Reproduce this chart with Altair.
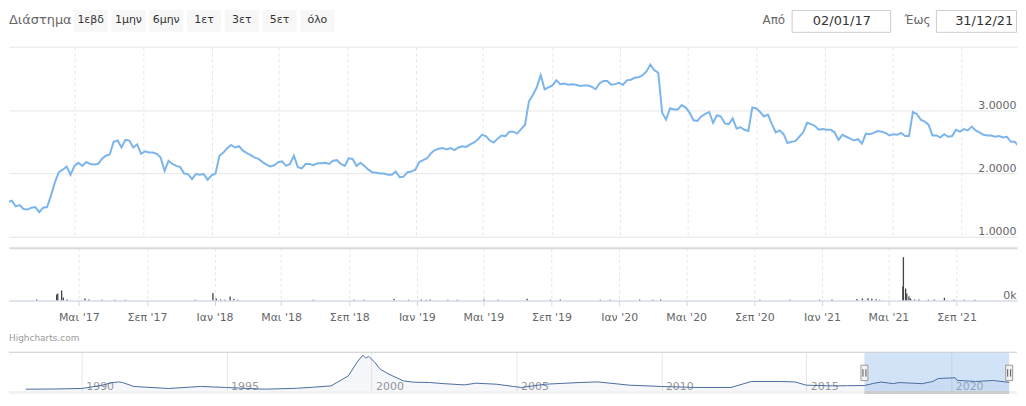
import altair as alt
import pandas as pd

# ---------------- data ----------------
BUTTONS = ["1εβδ", "1μην", "6μην", "1ετ", "3ετ", "5ετ", "όλο"]
RANGE_LABEL = "Διάστημα"
FROM_LABEL = "Από"
TO_LABEL = "Έως"
FROM_DATE = "02/01/17"
TO_DATE = "31/12/21"
CREDIT = "Highcharts.com"

PRICE_START = "2017-01-02"  # weekly closes
PRICE = [
    1.55, 1.57, 1.48, 1.50, 1.44, 1.43, 1.46, 1.47, 1.39, 1.46,
    1.47, 1.65, 1.86, 2.02, 2.06, 2.11, 1.98, 2.12, 2.17, 2.12,
    2.18, 2.15, 2.14, 2.15, 2.23, 2.28, 2.30, 2.50, 2.52, 2.41,
    2.53, 2.52, 2.41, 2.46, 2.31, 2.35, 2.33, 2.33, 2.31, 2.25,
    2.04, 2.20, 2.15, 2.12, 2.10, 2.00, 1.99, 1.91, 1.99, 1.98,
    1.99, 1.90, 1.97, 2.00, 2.28, 2.33, 2.40, 2.45, 2.41, 2.43,
    2.36, 2.32, 2.29, 2.25, 2.23, 2.18, 2.14, 2.11, 2.13, 2.18,
    2.19, 2.12, 2.15, 2.28, 2.10, 2.08, 2.15, 2.15, 2.13, 2.16,
    2.16, 2.17, 2.15, 2.20, 2.21, 2.15, 2.12, 2.24, 2.23, 2.12,
    2.17, 2.12, 2.06, 2.02, 2.01, 2.00, 2.00, 1.98, 1.98, 2.03,
    1.94, 1.95, 2.02, 2.03, 2.06, 2.18, 2.21, 2.24, 2.32, 2.37,
    2.39, 2.40, 2.38, 2.40, 2.37, 2.41, 2.43, 2.42, 2.46, 2.49,
    2.54, 2.61, 2.59, 2.52, 2.49, 2.55, 2.60, 2.59, 2.66, 2.66,
    2.63, 2.70, 2.77, 3.14, 3.24, 3.36, 3.55, 3.33, 3.36, 3.39,
    3.47, 3.41, 3.42, 3.40, 3.41, 3.40, 3.38, 3.39, 3.39, 3.37,
    3.33, 3.42, 3.46, 3.46, 3.40, 3.41, 3.43, 3.40, 3.47, 3.48,
    3.51, 3.52, 3.55, 3.61, 3.72, 3.63, 3.59, 2.96, 2.85, 3.03,
    3.01, 3.01, 3.08, 3.04, 2.96, 2.84, 2.83, 2.90, 2.94, 2.97,
    2.80, 2.92, 2.90, 2.79, 2.78, 2.87, 2.71, 2.73, 2.69, 2.67,
    3.04, 3.03, 2.97, 2.90, 2.93, 2.78, 2.65, 2.68, 2.62, 2.48,
    2.50, 2.51, 2.58, 2.65, 2.80, 2.78, 2.75, 2.69, 2.70, 2.69,
    2.69, 2.65, 2.53, 2.61, 2.58, 2.55, 2.52, 2.54, 2.47, 2.63,
    2.62, 2.64, 2.67, 2.66, 2.64, 2.60, 2.62, 2.61, 2.64, 2.59,
    2.59, 2.97, 2.94, 2.85, 2.82, 2.77, 2.60, 2.60, 2.57, 2.62,
    2.58, 2.59, 2.69, 2.66, 2.70, 2.68, 2.74, 2.68, 2.65, 2.61,
    2.60, 2.60, 2.58, 2.59, 2.57, 2.58, 2.50, 2.50, 2.43, 2.37, 2.34,
]

VOL_DATES = [
    "2017-02-14", "2017-03-22", "2017-03-24", "2017-03-31", "2017-04-03", "2017-04-10",
    "2017-05-12", "2017-05-19", "2017-06-12", "2017-07-05", "2017-07-24", "2017-11-27",
    "2017-12-29", "2018-01-04", "2018-01-12", "2018-01-19", "2018-01-29", "2018-02-05",
    "2018-02-12", "2018-06-28", "2018-09-10", "2018-09-28", "2018-11-21", "2018-12-17",
    "2019-01-09", "2019-01-18", "2019-01-25", "2019-02-26", "2019-03-15", "2019-05-02",
    "2019-05-27", "2019-07-19", "2019-08-30", "2019-09-17", "2019-11-28", "2019-12-16",
    "2020-02-07", "2020-03-02", "2020-03-16", "2020-09-11", "2020-11-04", "2020-12-28",
    "2021-01-19", "2021-03-05", "2021-03-15", "2021-03-25", "2021-04-01", "2021-04-09",
    "2021-04-15", "2021-05-27", "2021-05-28", "2021-06-01", "2021-06-03", "2021-06-07",
    "2021-06-10", "2021-06-17", "2021-06-25", "2021-07-12", "2021-07-23", "2021-08-10",
    "2021-08-27", "2021-09-15", "2021-10-04",
]
VOL_K = [
    9, 57, 66, 94, 28, 9,
    19, 9, 8, 8, 7, 8,
    71, 19, 9, 8, 38, 15,
    8, 8, 8, 8, 15, 8,
    10, 8, 10, 8, 8, 9,
    8, 17, 8, 9, 8, 8,
    9, 8, 9, 8, 8, 8,
    9, 15, 19, 22, 17, 12,
    8, 132, 410, 113, 66, 38,
    19, 10, 9, 8, 9, 26,
    8, 8, 8,
]

NAV_DATES = [
    "1988-01-26", "1989-01-01", "1990-01-01", "1990-09-01", "1991-01-01", "1991-04-10",
    "1991-06-01", "1991-10-20", "1993-01-01", "1994-02-06", "1995-01-01", "1996-04-20",
    "1997-06-01", "1998-01-01", "1998-08-08", "1999-03-14", "1999-07-02", "1999-09-13",
    "1999-10-19", "1999-11-25", "2000-02-06", "2000-04-20", "2000-08-08", "2001-02-06",
    "2001-06-14", "2002-01-01", "2002-07-01", "2003-03-14", "2003-08-08", "2004-04-20",
    "2004-11-25", "2005-03-01", "2006-01-01", "2007-03-14", "2007-10-20", "2008-11-25",
    "2010-01-01", "2011-03-14", "2012-05-27", "2013-02-06", "2014-02-06", "2014-08-08",
    "2015-01-01", "2015-11-25", "2016-06-01", "2017-01-02", "2017-05-01", "2017-08-01",
    "2018-01-01", "2018-03-14", "2018-10-01", "2019-01-01", "2019-05-15", "2019-07-20",
    "2020-02-20", "2020-03-14", "2020-11-01", "2021-06-15", "2021-12-31",
]
NAV_VALUES = [
    0.51, 0.55, 0.70, 1.50, 2.20, 2.48,
    2.30, 1.24, 0.70, 1.24, 0.97, 0.51,
    0.75, 1.05, 1.40, 4.10, 7.80, 9.70,
    8.90, 9.40, 7.90, 5.90, 4.56, 2.75,
    2.40, 2.32, 2.00, 1.67, 2.13, 1.86,
    1.24, 0.97, 1.86, 2.32, 2.48, 1.59,
    1.24, 0.97, 0.97, 2.59, 2.59, 2.48,
    1.59, 1.40, 1.45, 1.50, 2.10, 2.45,
    2.00, 2.30, 2.10, 2.00, 2.60, 3.40,
    3.60, 2.90, 2.60, 2.85, 2.35,
]

TICK_MONTHS = [(2017, 5), (2017, 9), (2018, 1), (2018, 5), (2018, 9), (2019, 1), (2019, 5),
               (2019, 9), (2020, 1), (2020, 5), (2020, 9), (2021, 1), (2021, 5), (2021, 9)]
NAV_YEARS = [1990, 1995, 2000, 2005, 2010, 2015, 2020]

# ---------------- tables ----------------
T = "T00:00:00"
price_df = pd.DataFrame({
    "date": pd.date_range(PRICE_START, periods=len(PRICE), freq="7D").strftime("%Y-%m-%d" + T),
    "price": PRICE,
})
vol_df = pd.DataFrame({"date": [d + T for d in VOL_DATES], "vol": VOL_K})
nav_df = pd.DataFrame({"date": [d + T for d in NAV_DATES], "value": NAV_VALUES})
sel_start = pd.to_datetime(FROM_DATE, format="%d/%m/%y").strftime("%Y-%m-%d" + T)
sel_end = pd.to_datetime(TO_DATE, format="%d/%m/%y").strftime("%Y-%m-%d" + T)
zone_df = pd.DataFrame({"start": [sel_start], "end": [sel_end]})
handle_df = pd.DataFrame({"date": [sel_start, sel_end]})
btn_df = pd.DataFrame({"b": BUTTONS})
one = pd.DataFrame({"k": [0]})

W = 1013
NAV_H = 39
GRID = "#e6e6e6"

# ---------------- header (range selector + inputs) ----------------
btn_scale = alt.Scale(type="band", range=[65, 327], paddingInner=0.1, paddingOuter=0)
btn_rect = alt.Chart(btn_df).mark_rect(color="#f7f7f7").encode(
    x=alt.X("b:N", sort=None, scale=btn_scale, axis=None),
    y=alt.value(0), y2=alt.value(22))
btn_text = alt.Chart(btn_df).mark_text(fontSize=11, color="#333333", baseline="middle").encode(
    x=alt.X("b:N", sort=None, scale=btn_scale, axis=None),
    y=alt.value(10.5), text="b:N")
lbl = alt.Chart(one).mark_text(text=RANGE_LABEL, align="left", baseline="middle",
                               fontSize=13, color="#666666").encode(x=alt.value(0), y=alt.value(10.5))
box1 = alt.Chart(one).mark_rect(fill="white", stroke="#cccccc", strokeWidth=1).encode(
    x=alt.value(787), x2=alt.value(886), y=alt.value(0.5), y2=alt.value(22.5))
box2 = alt.Chart(one).mark_rect(fill="white", stroke="#cccccc", strokeWidth=1).encode(
    x=alt.value(932), x2=alt.value(1012.5), y=alt.value(0.5), y2=alt.value(22.5))
t_from = alt.Chart(one).mark_text(text=FROM_LABEL, align="right", baseline="middle",
                                  fontSize=12, color="#666666").encode(x=alt.value(780), y=alt.value(10.5))
t_fromd = alt.Chart(one).mark_text(text=FROM_DATE, align="center", baseline="middle",
                                   fontSize=13, color="#333333").encode(x=alt.value(837), y=alt.value(11))
t_to = alt.Chart(one).mark_text(text=TO_LABEL, align="right", baseline="middle",
                                fontSize=12, color="#666666").encode(x=alt.value(926), y=alt.value(10.5))
t_tod = alt.Chart(one).mark_text(text=TO_DATE, align="center", baseline="middle",
                                 fontSize=13, color="#333333").encode(x=alt.value(980), y=alt.value(11))
header = alt.layer(btn_rect, btn_text, lbl, box1, box2, t_from, t_fromd, t_to, t_tod).properties(
    width=W, height=37)

# ---------------- price pane ----------------
x_main = alt.Scale(domain=[alt.DateTime(year=2017, month=1, date=4),
                           alt.DateTime(year=2021, month=12, date=10)], nice=False)
tick_vals = [alt.DateTime(year=y, month=m, date=1) for y, m in TICK_MONTHS]

price = alt.Chart(price_df).mark_line(color="#7cb5ec", strokeWidth=2, clip=True).encode(
    x=alt.X("date:T", scale=x_main,
            axis=alt.Axis(values=tick_vals, labels=False, ticks=False, domain=False, grid=True,
                          gridColor=GRID, gridDash=[3, 3], title=None, minExtent=0, maxExtent=0)),
    y=alt.Y("price:Q", scale=alt.Scale(domain=[1, 4], nice=False, zero=False),
            axis=alt.Axis(orient="right", values=[1, 2, 3, 4],
                          labelExpr="datum.value == 4 ? '' : format(datum.value, '.4f')",
                          ticks=False, tickSize=0, domain=False, grid=True, gridColor=GRID,
                          labelAlign="right", labelPadding=-1, labelBaseline="alphabetic",
                          labelOffset=-2, labelColor="#666666", labelFontSize=11, title=None,
                          minExtent=0, maxExtent=0)),
).properties(width=W, height=191)

spacer = alt.Chart(one).mark_rect(opacity=0).encode(
    x=alt.value(0), x2=alt.value(W), y=alt.value(0), y2=alt.value(11)).properties(width=W, height=11)

# ---------------- volume pane ----------------
month_expr = ("(month(datum.value) == 0 ? 'Ιαν' : month(datum.value) == 4 ? 'Μαι' : 'Σεπ')"
              " + \" '\" + timeFormat(datum.value, '%y')")
volume = alt.Chart(vol_df).mark_bar(color="#434348", width=1.3, clip=True).encode(
    x=alt.X("date:T", scale=x_main,
            axis=alt.Axis(values=tick_vals, labelExpr=month_expr, grid=True, gridColor=GRID,
                          gridDash=[3, 3], tickColor="#ccd6eb", tickSize=5, domainColor="#ccd6eb",
                          labelColor="#666666", labelFontSize=11, labelPadding=6,
                          labelFlush=False, title=None)),
    y=alt.Y("vol:Q", scale=alt.Scale(domain=[0, 500], nice=False),
            axis=alt.Axis(orient="right", values=[0, 500],
                          labelExpr="datum.value == 0 ? '0k' : ''",
                          ticks=False, tickSize=0, domain=False, grid=True,
                          gridColor={"condition": {"test": "datum.value == 0", "value": GRID},
                                     "value": "#d9d9d9"},
                          gridWidth={"condition": {"test": "datum.value == 0", "value": 1},
                                     "value": 2},
                          labelAlign="right", labelPadding=-1, labelBaseline="alphabetic",
                          labelOffset=-2, labelColor="#666666", labelFontSize=11, title=None,
                          minExtent=0, maxExtent=0)),
).properties(width=W, height=53)

credit = alt.Chart(one).mark_text(text=CREDIT, align="left", baseline="middle", fontSize=9,
                                  color="#999999").encode(x=alt.value(0), y=alt.value(38)).properties(
    width=W, height=52)

# ---------------- navigator ----------------
nav_x = alt.Scale(domain=[alt.DateTime(year=1987, month=8, date=31),
                          alt.DateTime(year=2022, month=2, date=5)], nice=False)
nav_y = alt.Scale(domain=[0, 10.5], nice=False, zero=False)
nav_axis = alt.Axis(values=[alt.DateTime(year=y, month=1, date=1) for y in NAV_YEARS],
                    format="%Y", grid=True, gridColor=GRID, ticks=False, tickSize=0, domain=False,
                    labelAlign="left", labelOffset=4, labelPadding=-2, labelBaseline="alphabetic",
                    labelColor="#999999", labelFontSize=11, labelFlush=False, title=None,
                    minExtent=0, maxExtent=0)

nav_zone = alt.Chart(zone_df).mark_rect(color="#8fb8ea", opacity=0.4).encode(
    x=alt.X("start:T", scale=nav_x, axis=nav_axis), x2="end:T",
    y=alt.value(0), y2=alt.value(NAV_H))
nav_area = alt.Chart(nav_df).mark_area(color="#335cad", opacity=0.05).encode(
    x=alt.X("date:T", scale=nav_x), y=alt.Y("value:Q", scale=nav_y, axis=None))
nav_line = alt.Chart(nav_df).mark_line(color="#4a6d9f", strokeWidth=1).encode(
    x=alt.X("date:T", scale=nav_x), y=alt.Y("value:Q", scale=nav_y, axis=None))
nav_top = alt.Chart(one).mark_rule(color="#cccccc").encode(
    x=alt.value(0), x2=alt.value(W), y=alt.value(0))
nav_track = alt.Chart(one).mark_rect(color="#f2f2f2").encode(
    x=alt.value(0), x2=alt.value(W), y=alt.value(NAV_H), y2=alt.value(NAV_H + 3))
nav_thumb = alt.Chart(zone_df).mark_rect(color="#cccccc").encode(
    x=alt.X("start:T", scale=nav_x), x2="end:T", y=alt.value(NAV_H), y2=alt.value(NAV_H + 3))
nav_handles = alt.Chart(handle_df).mark_bar(width=7, color="#f2f2f2", stroke="#999999",
                                            strokeWidth=1).encode(
    x=alt.X("date:T", scale=nav_x), y=alt.value(13), y2=alt.value(28.5))
grip_l = alt.Chart(handle_df).mark_rule(color="#555555", xOffset=-1.5).encode(
    x=alt.X("date:T", scale=nav_x), y=alt.value(17), y2=alt.value(24.5))
grip_r = alt.Chart(handle_df).mark_rule(color="#555555", xOffset=1.5).encode(
    x=alt.X("date:T", scale=nav_x), y=alt.value(17), y2=alt.value(24.5))
nav = alt.layer(nav_zone, nav_area, nav_line, nav_top, nav_track, nav_thumb,
                nav_handles, grip_l, grip_r).properties(width=W, height=NAV_H)

chart = alt.vconcat(header, price, spacer, volume, credit, nav, spacing=0, bounds="flush").properties(
    padding=0,
    autosize=alt.AutoSizeParams(type="pad", contains="padding"),
).configure(font="DejaVu Sans").configure_view(stroke="transparent")

chart.save("out.html", embed_options={"renderer": "svg", "actions": False})
